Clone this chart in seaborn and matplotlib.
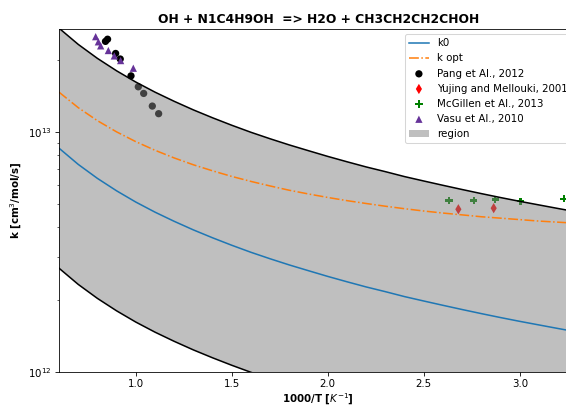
import matplotlib
matplotlib.use("Agg")
import matplotlib.pyplot as plt
import seaborn as sns
import numpy as np

# ---- data ----
inv_T = [0.6, 0.7, 0.8, 0.9, 1.0, 1.1, 1.2, 1.3, 1.4, 1.5, 1.6, 1.7, 1.8, 1.9, 2.0,
         2.1, 2.2, 2.3, 2.4, 2.5, 2.6, 2.7, 2.8, 2.9, 3.0, 3.1, 3.2, 3.3, 3.4]
k0 = [8.55e12, 7.32e12, 6.40e12, 5.68e12, 5.10e12, 4.63e12, 4.24e12, 3.905e12, 3.62e12,
      3.37e12, 3.15e12, 2.96e12, 2.79e12, 2.64e12, 2.50e12, 2.375e12, 2.26e12, 2.16e12,
      2.06e12, 1.975e12, 1.895e12, 1.82e12, 1.75e12, 1.685e12, 1.625e12, 1.57e12,
      1.517e12, 1.467e12, 1.42e12]
k_opt = [14.63e12, 12.61e12, 11.13e12, 9.995e12, 9.10e12, 8.38e12, 7.785e12, 7.29e12,
         6.88e12, 6.52e12, 6.215e12, 5.95e12, 5.71e12, 5.51e12, 5.33e12, 5.17e12, 5.03e12,
         4.90e12, 4.785e12, 4.68e12, 4.59e12, 4.51e12, 4.43e12, 4.37e12, 4.31e12, 4.25e12,
         4.205e12, 4.16e12, 4.12e12]
uncertainty_factor = 3.16

pang_x = [0.842, 0.853, 0.895, 0.919, 0.975, 1.013, 1.041, 1.086, 1.119]
pang_k = [23.8e12, 24.3e12, 21.2e12, 20.1e12, 17.1e12, 15.4e12, 14.45e12, 12.8e12, 11.9e12]

yujing_x = [2.68, 2.864]
yujing_k = [4.76e12, 4.81e12]

mcgillen_x = [2.631, 2.76, 2.872, 3.003, 3.23]
mcgillen_k = [5.18e12, 5.18e12, 5.22e12, 5.14e12, 5.26e12]

vasu_x = [0.791, 0.805, 0.817, 0.857, 0.888, 0.921, 0.987]
vasu_k = [24.9e12, 23.7e12, 22.8e12, 21.8e12, 20.7e12, 19.8e12, 18.4e12]

title = "OH + N1C4H9OH  => H2O + CH3CH2CH2CHOH"

# ---- figure ----
DPI = 74
fig = plt.figure(figsize=(566 / DPI, 405 / DPI), dpi=DPI)
ax = fig.add_axes([59 / 566, 33 / 405, (577.4 - 59) / 566, (372 - 29) / 405])

sns.lineplot(x=inv_T, y=k0, ax=ax, color="C0", label="k0", sort=False)
sns.lineplot(x=inv_T, y=k_opt, ax=ax, color="C1", linestyle="-.", label="k opt", sort=False)

k0_arr = np.array(k0)
upper = k0_arr * uncertainty_factor
lower = k0_arr / uncertainty_factor
ax.plot(inv_T, upper, color="black", label="_nolegend_")
ax.plot(inv_T, lower, color="black", label="_nolegend_")

MS = 50
sns.scatterplot(x=pang_x, y=pang_k, ax=ax, color="black", marker="o", s=MS,
                edgecolor="none", label="Pang et Al., 2012")
sns.scatterplot(x=yujing_x, y=yujing_k, ax=ax, color="red", marker="d", s=MS,
                edgecolor="none", label="Yujing and Mellouki, 2001")
sns.scatterplot(x=mcgillen_x, y=mcgillen_k, ax=ax, color="green", marker="P", s=MS,
                edgecolor="none", label="McGillen et Al., 2013")
sns.scatterplot(x=vasu_x, y=vasu_k, ax=ax, color="rebeccapurple", marker="^", s=MS,
                edgecolor="none", label="Vasu et Al., 2010")

ax.fill_between(inv_T, lower, upper, color="gray", alpha=0.5, linewidth=0, label="region")

ax.set_yscale("log")
ax.set_xlim(0.6, 3.3)
ax.set_ylim(1e12, 2.68e13)

ax.set_title(title, fontweight="bold")
ax.set_xlabel("1000/T [$K^{-1}$]", fontweight="bold", labelpad=2)
ax.set_ylabel("k [cm$^3$/mol/s]", fontweight="bold")

order = ["k0", "k opt", "Pang et Al., 2012", "Yujing and Mellouki, 2001",
         "McGillen et Al., 2013", "Vasu et Al., 2010", "region"]
h, l = ax.get_legend_handles_labels()
d = dict(zip(l, h))
ax.legend([d[o] for o in order], order, loc="upper right")

fig.savefig("out.png", dpi=DPI)
